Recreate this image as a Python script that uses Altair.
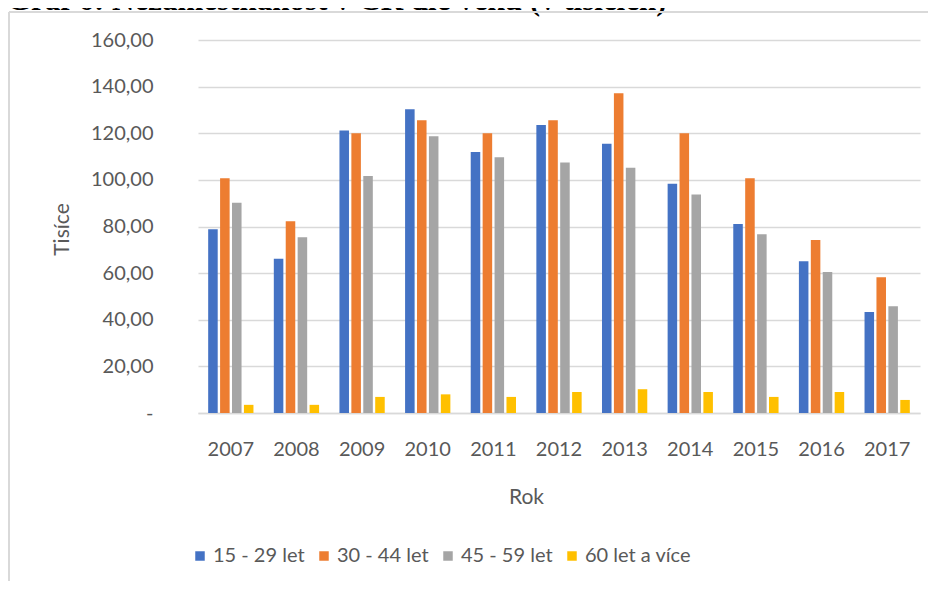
import altair as alt
import pandas as pd

years = ["2007", "2008", "2009", "2010", "2011", "2012", "2013", "2014", "2015", "2016", "2017"]
series = ["15 - 29 let", "30 - 44 let", "45 - 59 let", "60 let a více"]
s15 = [78.8, 66.2, 121.2, 130.3, 112.0, 123.5, 115.5, 98.3, 81.1, 65.1, 43.3]
s30 = [100.7, 82.3, 120.0, 125.6, 120.0, 125.6, 137.2, 120.0, 100.7, 74.2, 58.2]
s45 = [90.2, 75.4, 101.7, 118.7, 109.7, 107.4, 105.2, 93.7, 76.7, 60.5, 45.8]
s60 = [3.5, 3.5, 6.9, 8.0, 6.9, 9.0, 10.2, 9.0, 6.9, 9.0, 5.6]
colors = ["#4472C4", "#ED7D31", "#A5A5A5", "#FFC000"]
title_text = "Graf 6: Nezaměstnanost v ČR dle věku (v tisících)"

rows = []
for name, vals in zip(series, [s15, s30, s45, s60]):
    for y, v in zip(years, vals):
        rows.append({"Rok": y, "Skupina": name, "Hodnota": v})
df = pd.DataFrame(rows)

FONT = "Lato"
GREY = "#595959"

bars = alt.Chart(df).mark_bar().encode(
    x=alt.X("Rok:N", sort=years,
            scale=alt.Scale(paddingInner=0.31, paddingOuter=0.155),
            axis=alt.Axis(title="Rok", labelAngle=0, ticks=False, domain=True,
                          domainColor="#D9D9D9", domainWidth=1.5,
                          labelFont=FONT, labelFontSize=20, labelColor=GREY,
                          labelPadding=26,
                          titleFont=FONT, titleFontSize=21, titleColor=GREY,
                          titleFontWeight="normal",
                          titleX=328, titleY=84, titleBaseline="middle",
                          titleAlign="center")),
    xOffset=alt.XOffset("Skupina:N", sort=series,
                        scale=alt.Scale(paddingInner=0.2, paddingOuter=0)),
    y=alt.Y("Hodnota:Q",
            scale=alt.Scale(domain=[0, 160], nice=False),
            axis=alt.Axis(title="Tisíce", values=list(range(0, 161, 20)),
                          labelExpr="datum.value == 0 ? '-\u00a0\u00a0\u00a0' : replace(format(datum.value, '.2f'), '.', ',')",
                          ticks=False, domain=False,
                          grid=True, gridColor="#D9D9D9", gridWidth=1.5,
                          labelFont=FONT, labelFontSize=20, labelColor=GREY,
                          labelPadding=45,
                          titleFont=FONT, titleFontSize=21, titleColor=GREY,
                          titleFontWeight="normal",
                          titleX=-136, titleY=189, titleBaseline="middle",
                          titleAlign="center", titleAngle=-90)),
    color=alt.Color("Skupina:N", sort=series,
                    scale=alt.Scale(domain=series, range=colors),
                    legend=alt.Legend(orient="none", legendX=-8, legendY=506,
                                      direction="horizontal", title=None,
                                      symbolType="square", symbolSize=90,
                                      symbolStrokeWidth=0,
                                      labelFont=FONT, labelFontSize=20,
                                      labelColor=GREY, labelOffset=3,
                                      columnPadding=9, labelLimit=300)),
)

frame_left = alt.Chart(pd.DataFrame({"k": [0]})).mark_rule(
    color="#D9D9D9", strokeWidth=2
).encode(x=alt.value(-189), y=alt.value(-28), y2=alt.value(600))

frame_top = alt.Chart(pd.DataFrame({"k": [0]})).mark_rule(
    color="#D9D9D9", strokeWidth=2
).encode(x=alt.value(-189), x2=alt.value(760), y=alt.value(-28))

title = alt.Chart(pd.DataFrame({"t": [title_text]})).mark_text(
    font="Liberation Serif", fontSize=31, fontWeight="bold", color="black",
    align="left", baseline="alphabetic"
).encode(text="t:N", x=alt.value(-191), y=alt.value(-30))

chart = alt.layer(title, frame_left, frame_top, bars).properties(
    width=722, height=373,
    autosize=alt.AutoSizeParams(type="none"),
    padding={"left": 190, "top": 32, "right": 8, "bottom": 168},
).configure(background="white").configure_view(stroke=None)

chart.save("out.html", embed_options={"renderer": "svg", "actions": False})
